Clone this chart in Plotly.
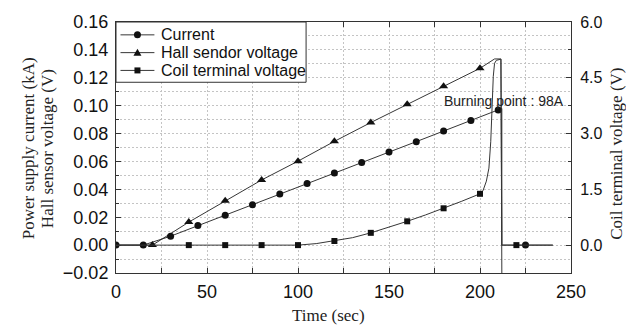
import plotly.graph_objects as go

# ---------------- data ----------------
# Power supply current (kA) vs time (s)
cur_t = [0, 15, 30, 45, 60, 75, 90, 105, 120, 135, 150, 165, 180, 195, 210, 212, 212, 225, 240]
cur_v = [0, 0, 0.0064, 0.0140, 0.0215, 0.0290, 0.0366, 0.0442, 0.0517, 0.0592, 0.0667, 0.0742,
         0.0818, 0.0894, 0.0969, 0.0980, 0, 0, 0]
cur_mark = [1, 1, 1, 1, 1, 1, 1, 1, 1, 1, 1, 1, 1, 1, 1, 0, 0, 1, 0]

# Hall sensor voltage (V) vs time (s)
hall_t = [0, 20, 40, 60, 80, 100, 120, 140, 160, 180, 200, 208, 211.5, 212]
hall_v = [0, 0, 0.0165, 0.0318, 0.0467, 0.0602, 0.0744, 0.0879, 0.1010, 0.1139, 0.1268,
          0.1335, 0.1335, -0.02]
hall_mark = [0, 1, 1, 1, 1, 1, 1, 1, 1, 1, 1, 0, 0, 0]

# Coil terminal voltage (V, right axis) vs time (s)
coil_t = [0, 20, 40, 60, 80, 100, 110, 120, 130, 140, 150, 160, 170, 180, 190, 200,
          201.7, 203.5, 204.9, 205.9, 206.6, 207.3, 208, 209, 211.5, 212, 220, 240]
coil_v = [0, 0, 0, 0, 0, 0, 0.04, 0.11, 0.20, 0.33, 0.48, 0.64, 0.81, 0.99, 1.18, 1.38,
          1.47, 1.72, 2.07, 2.78, 3.66, 4.54, 4.89, 4.97, 5.0, 0, 0, 0]
coil_mark = [0, 0, 1, 1, 1, 1, 0, 1, 0, 1, 0, 1, 0, 1, 0, 1,
             0, 0, 0, 0, 0, 0, 0, 0, 0, 0, 1, 0]

series_names = ["Current", "Hall sendor voltage", "Coil terminal voltage"]
annotation_text = "Burning point : 98A"
x_title = "Time (sec)"
y_title_1 = "Power supply current (kA)"
y_title_2 = "Hall sensor voltage (V)"
y2_title = "Coil terminal voltage (V)"

# ---------------- styling ----------------
LINE_COLOR = "#363636"
MARK_COLOR = "#111111"
GRID_COLOR = "#c4c4c4"
AXIS_COLOR = "#333333"
SANS = "Liberation Sans, Arial, sans-serif"
SERIF = "Liberation Serif, Times New Roman, serif"

symbols = ["circle", "triangle-up", "square"]
sizes = [7, 8, 6]

fig = go.Figure()

data = [(cur_t, cur_v, cur_mark, "y"), (hall_t, hall_v, hall_mark, "y"),
        (coil_t, coil_v, coil_mark, "y2")]

for i, (t, v, m, ax) in enumerate(data):
    fig.add_trace(go.Scatter(x=t, y=v, mode="lines", yaxis=ax, showlegend=False,
                             name=series_names[i],
                             line=dict(color=LINE_COLOR, width=1), hoverinfo="skip"))
for i, (t, v, m, ax) in enumerate(data):
    mt = [a for a, k in zip(t, m) if k]
    mv = [b for b, k in zip(v, m) if k]
    fig.add_trace(go.Scatter(x=mt, y=mv, mode="markers", yaxis=ax, showlegend=False,
                             name=series_names[i],
                             marker=dict(symbol=symbols[i], size=sizes[i], color=MARK_COLOR,
                                         line=dict(width=0))))

L, R, T, B = 115.5, 571.5, 19, 273
W, H = 626, 325
pw, ph = R - L, B - T


def px(x):
    return (x - L) / pw


def py(y):
    return (B - y) / ph


fig.update_layout(
    width=W, height=H, autosize=False,
    margin=dict(l=L, r=W - R, t=T, b=H - B, pad=0),
    paper_bgcolor="white", plot_bgcolor="white",
    showlegend=False,
    xaxis=dict(range=[0, 250], tick0=0, dtick=50, ticks="inside", ticklen=5, tickwidth=1,
               tickcolor=AXIS_COLOR, showline=True, linecolor=AXIS_COLOR, linewidth=1,
               mirror="ticks", showgrid=True, gridcolor=GRID_COLOR, gridwidth=1,
               griddash="2px,2px", zeroline=False, ticklabelstandoff=2,
               tickfont=dict(family=SANS, size=18, color="#111"),
               minor=dict(dtick=25, ticks="inside", ticklen=5, tickcolor=AXIS_COLOR,
                          showgrid=True, gridcolor=GRID_COLOR, griddash="2px,2px")),
    yaxis=dict(range=[-0.02, 0.16], tick0=0, dtick=0.02, tickformat=".2f",
               ticks="inside", ticklen=5, tickcolor=AXIS_COLOR, showline=True,
               linecolor=AXIS_COLOR, linewidth=1, showgrid=True, gridcolor=GRID_COLOR,
               griddash="2px,2px", zeroline=False, ticklabelstandoff=3,
               tickfont=dict(family=SANS, size=18, color="#111"),
               minor=dict(dtick=0.01, ticks="inside", ticklen=3, tickcolor=AXIS_COLOR,
                          showgrid=True, gridcolor=GRID_COLOR, griddash="2px,2px")),
    yaxis2=dict(range=[-0.75, 6], tick0=0, dtick=1.5, tickformat=".1f", overlaying="y",
                side="right", ticks="inside", ticklen=5, tickcolor=AXIS_COLOR,
                showline=True, linecolor=AXIS_COLOR, linewidth=1, showgrid=False,
                zeroline=False, ticklabelstandoff=5,
                tickfont=dict(family=SANS, size=16, color="#111"),
                minor=dict(dtick=0.75, ticks="inside", ticklen=3, tickcolor=AXIS_COLOR)),
)

# ---------------- legend (drawn as decoration: box, sample lines, symbols, text) ----------------
leg_x0, leg_x1, leg_y0, leg_y1 = 115.5, 306, 19, 80
row_y = [32, 50, 68]
fig.add_shape(type="rect", xref="paper", yref="paper", x0=px(leg_x0), x1=px(leg_x1),
              y0=py(leg_y1), y1=py(leg_y0), fillcolor="white",
              line=dict(color=AXIS_COLOR, width=1), layer="above")
sym_paths = {
    "triangle-up": "M -4,-3 L 4,-3 L 0,4 Z",
    "square": "M -3,-3 L 3,-3 L 3,3 L -3,3 Z",
}
for i, name in enumerate(series_names):
    yy = py(row_y[i])
    fig.add_shape(type="line", xref="paper", yref="paper", x0=px(120), x1=px(154),
                  y0=yy, y1=yy, line=dict(color=LINE_COLOR, width=1), layer="above")
    if symbols[i] == "circle":
        fig.add_shape(type="circle", xref="paper", yref="paper", xsizemode="pixel",
                      ysizemode="pixel", xanchor=px(137), yanchor=yy,
                      x0=-3.5, x1=3.5, y0=-3.5, y1=3.5,
                      fillcolor=MARK_COLOR, line=dict(width=0), layer="above")
    else:
        fig.add_shape(type="path", xref="paper", yref="paper", xsizemode="pixel",
                      ysizemode="pixel", xanchor=px(137), yanchor=yy,
                      path=sym_paths[symbols[i]],
                      fillcolor=MARK_COLOR, line=dict(width=0), layer="above")
    fig.add_annotation(x=px(159), y=yy, xref="paper", yref="paper", text=name,
                       showarrow=False, xanchor="left", yanchor="middle",
                       font=dict(family=SANS, size=16, color="#111"))

fig.add_annotation(x=247.5, y=0.1035, xref="x", yref="y", text=annotation_text,
                   showarrow=False, xanchor="right", yanchor="middle",
                   font=dict(family=SANS, size=14, color="#222"))

title_font = dict(family=SERIF, size=17, color="#222")
fig.add_annotation(x=px(28), y=py(147), xref="paper", yref="paper", text=y_title_1,
                   textangle=-90, showarrow=False, xanchor="center", yanchor="middle",
                   font=title_font)
fig.add_annotation(x=px(47), y=py(147), xref="paper", yref="paper", text=y_title_2,
                   textangle=-90, showarrow=False, xanchor="center", yanchor="middle",
                   font=title_font)
fig.add_annotation(x=px(617), y=py(152), xref="paper", yref="paper", text=y2_title,
                   textangle=-90, showarrow=False, xanchor="center", yanchor="middle",
                   font=title_font)
fig.add_annotation(x=px(328), y=py(316), xref="paper", yref="paper", text=x_title,
                   showarrow=False, xanchor="center", yanchor="middle", font=title_font)

fig.write_html("out.html")
